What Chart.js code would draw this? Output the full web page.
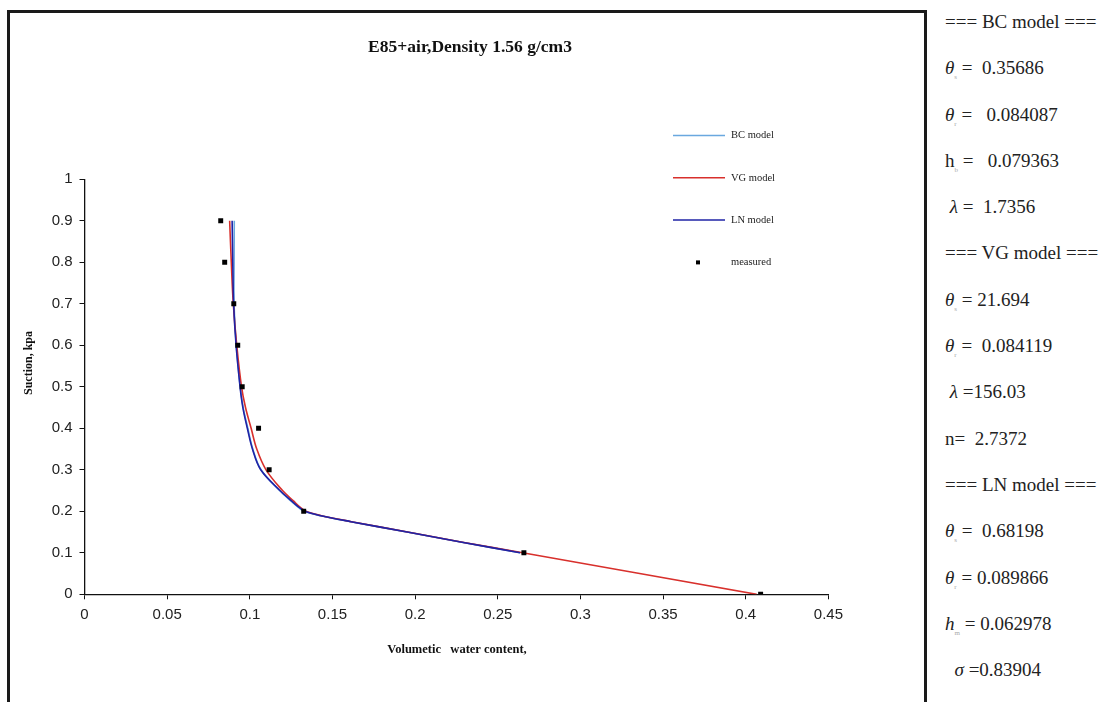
<!DOCTYPE html>
<html>
<head>
<meta charset="utf-8">
<script src="https://cdn.jsdelivr.net/npm/chart.js@4.4.1/dist/chart.umd.min.js"></script>
<style>
  body { margin: 0; background: #fff; width: 1115px; height: 702px; overflow: hidden; position: relative; }
  #frame { position: absolute; left: 7px; top: 10px; width: 914px; height: 700px; border: 3px solid #1a1a1a; }
  #wrap { position: relative; width: 914px; height: 689px; }
  #params { position: absolute; left: 945px; top: -1px; font-family: "Liberation Serif", "Times New Roman", serif;
            font-size: 19px; color: #222; white-space: pre; }
  #params div { height: 46.3px; line-height: 46.3px; }
  #params i { font-style: italic; }
  #params sub { font-size: 7px; line-height: 0; vertical-align: -5px; color: #aaa; }
</style>
</head>
<body>
<div id="frame"><div id="wrap"><canvas id="c"></canvas></div></div>
<div id="params"><div>=== BC model ===</div><div><i>θ</i><sub>s</sub> =  0.35686</div><div><i>θ</i><sub>r</sub> =   0.084087</div><div>h<sub>b</sub> =   0.079363</div><div> <i>λ</i> =  1.7356</div><div>=== VG model ===</div><div><i>θ</i><sub>s</sub> = 21.694</div><div><i>θ</i><sub>r</sub> =  0.084119</div><div> <i>λ</i> =156.03</div><div>n=  2.7372</div><div>=== LN model ===</div><div><i>θ</i><sub>s</sub> =  0.68198</div><div><i>θ</i><sub>r</sub> = 0.089866</div><div><i>h</i><sub>m</sub> = 0.062978</div><div>  <i>σ</i> =0.83904</div></div>
<script>
const chartTitle = 'E85+air,Density 1.56 g/cm3';
const xTitle = 'Volumetic   water content,';
const yTitle = 'Suction, kpa';

// measured points
const measuredSuction = [0.9, 0.8, 0.7, 0.6, 0.5, 0.4, 0.3, 0.2, 0.1, 0.0];
const measuredTheta = [0.0824, 0.0848, 0.0903, 0.0927, 0.0954, 0.1053, 0.1117, 0.1326, 0.2658, 0.4090];

// fitted curves
const fitSuction = [0.9, 0.8, 0.7, 0.6, 0.5, 0.45, 0.4, 0.35, 0.3, 0.25, 0.225, 0.21, 0.2, 0.19, 0.175, 0.15, 0.125, 0.1];
const bcTheta = [0.0906, 0.0905, 0.0905, 0.0918, 0.0942, 0.0960, 0.0988, 0.1018, 0.1068, 0.1180, 0.1248, 0.1292, 0.1330, 0.1420, 0.1610, 0.1950, 0.2290, 0.2635];
const lnTheta = [0.0893, 0.0897, 0.0902, 0.0917, 0.0941, 0.0958, 0.0985, 0.1016, 0.1066, 0.1182, 0.1252, 0.1296, 0.1334, 0.1423, 0.1612, 0.1952, 0.2292, 0.2635];
const vgSuction = [0.9, 0.8, 0.7, 0.6, 0.5, 0.45, 0.4, 0.35, 0.3, 0.25, 0.225, 0.21, 0.2, 0.19, 0.175, 0.15, 0.125, 0.1, 0.0];
const vgTheta = [0.0878, 0.0888, 0.0900, 0.0921, 0.0950, 0.0974, 0.1008, 0.1042, 0.1098, 0.1198, 0.1264, 0.1304, 0.1340, 0.1428, 0.1615, 0.1955, 0.2295, 0.2650, 0.4066];

const legendLabels = ['BC model', 'VG model', 'LN model', 'measured'];
const colors = ['#6aa8df', '#d8302c', '#1f23a6', '#000000'];

function pts(xs, ys) { return xs.map((x, i) => ({x, y: ys[i]})); }
function tick(v) { return String(+v.toFixed(2)); }

const serif = '"Liberation Serif", "Times New Roman", serif';

const annotate = {
  id: 'annotate',
  afterDraw(chart) {
    const ctx = chart.ctx;
    ctx.save();
    ctx.fillStyle = '#111';
    ctx.textAlign = 'center';
    ctx.textBaseline = 'middle';
    ctx.font = 'bold 17.5px ' + serif;
    ctx.fillText(chartTitle, 460, 34);
    ctx.font = 'bold 12.5px ' + serif;
    ctx.fillText(xTitle, 447, 637);
    ctx.font = 'bold 12px ' + serif;
    ctx.save();
    ctx.translate(19, 350);
    ctx.rotate(-Math.PI / 2);
    ctx.fillText(yTitle, 0, 0);
    ctx.restore();

    // legend
    ctx.textAlign = 'left';
    ctx.font = '10.5px ' + serif;
    legendLabels.forEach((lab, i) => {
      const y = 122.5 + i * 42.3;
      if (i < 3) {
        ctx.strokeStyle = colors[i];
        ctx.lineWidth = 1.5;
        ctx.beginPath();
        ctx.moveTo(663, y);
        ctx.lineTo(715, y);
        ctx.stroke();
      } else {
        ctx.fillStyle = '#000';
        ctx.fillRect(686, y - 2, 4, 4);
      }
      ctx.fillStyle = '#222';
      ctx.fillText(lab, 721, y);
    });
    ctx.restore();
  }
};

new Chart(document.getElementById('c'), {
  type: 'scatter',
  data: {
    datasets: [
      { label: 'BC model', data: pts(bcTheta, fitSuction), showLine: true,
        borderColor: colors[0], borderWidth: 1.6, pointRadius: 0, tension: 0.35, order: 3 },
      { label: 'VG model', data: pts(vgTheta, vgSuction), showLine: true,
        borderColor: colors[1], borderWidth: 1.6, pointRadius: 0, tension: 0.35, order: 2 },
      { label: 'LN model', data: pts(lnTheta, fitSuction), showLine: true,
        borderColor: colors[2], borderWidth: 1.6, pointRadius: 0, tension: 0.35, order: 1 },
      { label: 'measured', data: pts(measuredTheta, measuredSuction), showLine: false,
        pointStyle: 'rect', pointRadius: 3.5, backgroundColor: '#000', borderColor: '#000', borderWidth: 0, order: 0 },
    ],
  },
  options: {
    responsive: true,
    maintainAspectRatio: false,
    animation: false,
    layout: { padding: { left: 0, top: 166.3, right: 95.6, bottom: 0 } },
    plugins: { legend: { display: false }, tooltip: { enabled: false } },
    scales: {
      x: {
        type: 'linear', min: 0, max: 0.45,
        ticks: { stepSize: 0.05, callback: tick, color: '#222', padding: 7, font: { family: 'Arial, "Liberation Sans"', size: 15 } },
        grid: { drawOnChartArea: false, drawTicks: true, tickLength: 5, color: '#111' },
        border: { color: '#111', width: 1.3 },
        afterFit(s) { s.height = 107.7; },
      },
      y: {
        type: 'linear', min: 0, max: 1,
        ticks: { stepSize: 0.1, callback: tick, color: '#222', padding: 7, font: { family: 'Arial, "Liberation Sans"', size: 15 } },
        grid: { drawOnChartArea: false, drawTicks: true, tickLength: 5, color: '#111' },
        border: { color: '#111', width: 1.3 },
        afterFit(s) { s.width = 74.5; },
      },
    },
  },
  plugins: [annotate],
});
</script>
</body>
</html>
